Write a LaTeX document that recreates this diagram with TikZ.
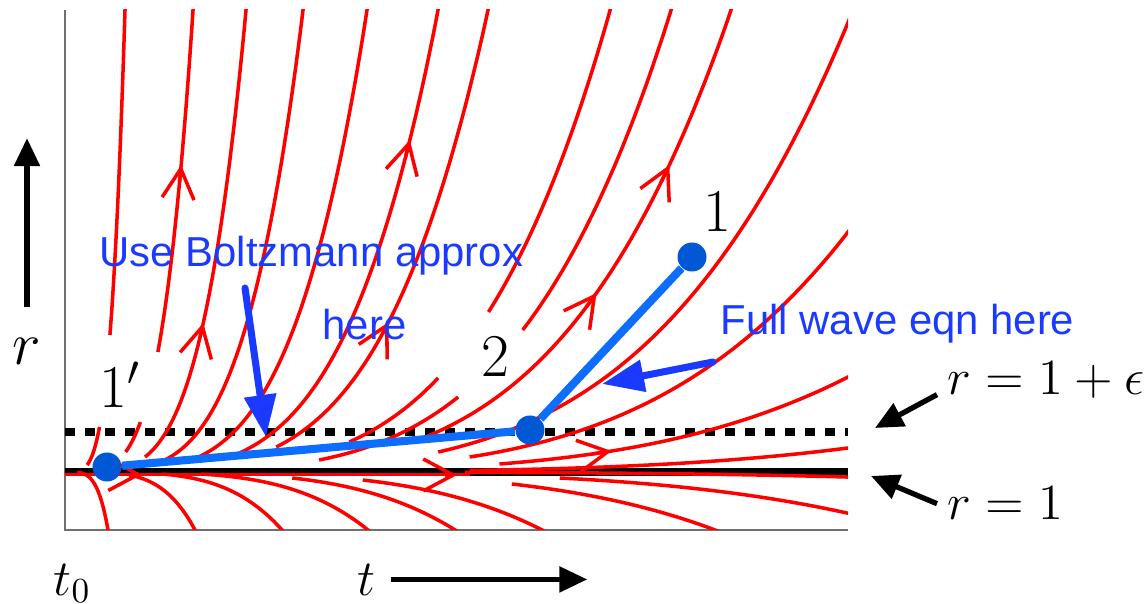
\documentclass[tikz,border=0pt]{standalone}
\usepackage{amsmath,amssymb}
\usepackage{fontspec}
\newfontfamily\notefont{Liberation Sans}
\usetikzlibrary{arrows.meta,positioning,calc}
\definecolor{flowred}{HTML}{FF0000}
\definecolor{routeblue}{HTML}{0D6EFD}
\definecolor{dotblue}{HTML}{0058D4}
\definecolor{noteblue}{HTML}{1A3AFF}
\definecolor{axisgray}{HTML}{707070}

\begin{document}
\begin{tikzpicture}[x=0.01cm,y=-0.01cm,
  declare function={upx(\s,\U)=65+\U*exp((\s-6.1356)/4.2);
    upy(\s)=472-exp(\s);
    dnx(\s,\B)=65+\B*exp((\s-4.0604)/4.2);
    dny(\s)=472+exp(\s);},
  flow/.style={flowred,line width=1pt},
  flowtip/.style={flow,-{Straight Barb[length=3mm,width=3.2mm]}},
  route/.style={routeblue,line width=2.3pt},
  dot/.style={circle,fill=dotblue,inner sep=0pt,minimum size=2.9mm},
  note/.style={noteblue,inner sep=0pt,font=\notefont\fontsize{11.9}{14}\selectfont},
  pointer/.style={noteblue,line width=2pt,line cap=round,-{Triangle[length=4.2mm,width=3.1mm]}},
  ptlabel/.style={inner sep=0pt,font=\fontsize{17}{20}\selectfont},
  axlabel/.style={inner sep=0pt,font=\fontsize{14.5}{17}\selectfont},
  blackarr/.style={line width=1.5pt,-{Triangle[length=2.8mm,width=2.5mm]}}]
\useasboundingbox (0,0) rectangle (1146,604);
\draw[axisgray,line width=0.6pt] (65,10) -- (65,530) -- (848,530);
\draw[line width=2pt] (65,472) -- (848,472);
\draw[line width=2.3pt,dash pattern=on 1mm off 1mm] (65,432) -- (848,432);
\begin{scope}
\clip (65,10) rectangle (848,530);
\draw[flow] plot[domain=ln(137):ln(470),samples=50,smooth,variable=\s] ({upx(\s,60)},{upy(\s)});
\draw[flow] plot[domain=ln(7):ln(45),samples=30,smooth,variable=\s] ({upx(\s,60)},{upy(\s)});
\draw[flow] plot[domain=ln(120):ln(470),samples=50,smooth,variable=\s] ({upx(\s,128)},{upy(\s)});
\draw[flow] plot[domain=ln(20):ln(50),samples=30,smooth,variable=\s] ({upx(\s,128)},{upy(\s)});
\draw[flow] plot[domain=ln(15):ln(470),samples=60,smooth,variable=\s] ({upx(\s,181)},{upy(\s)});
\draw[flow] plot[domain=ln(12):ln(470),samples=60,smooth,variable=\s] ({upx(\s,238)},{upy(\s)});
\draw[flow] plot[domain=ln(10):ln(470),samples=60,smooth,variable=\s] ({upx(\s,302)},{upy(\s)});
\draw[flow] plot[domain=ln(15):ln(470),samples=60,smooth,variable=\s] ({upx(\s,373)},{upy(\s)});
\draw[flow] plot[domain=ln(25):ln(470),samples=60,smooth,variable=\s] ({upx(\s,423)},{upy(\s)});
\draw[flow] plot[domain=ln(160):ln(470),samples=50,smooth,variable=\s] ({upx(\s,545)},{upy(\s)});
\draw[flow] plot[domain=ln(30):ln(94),samples=30,smooth,variable=\s] ({upx(\s,545)},{upy(\s)});
\draw[flow] plot[domain=ln(142):ln(470),samples=50,smooth,variable=\s] ({upx(\s,606)},{upy(\s)});
\draw[flow] plot[domain=ln(12):ln(75),samples=30,smooth,variable=\s] ({upx(\s,606)},{upy(\s)});
\draw[flow] plot[domain=ln(30):ln(470),samples=60,smooth,variable=\s] ({upx(\s,666)},{upy(\s)});
\draw[flow] plot[domain=ln(20):ln(470),samples=60,smooth,variable=\s] ({upx(\s,788)},{upy(\s)});
\draw[flow] plot[domain=ln(15):ln(470),samples=60,smooth,variable=\s] ({upx(\s,915)},{upy(\s)});
\draw[flow] plot[domain=ln(8):ln(470),samples=60,smooth,variable=\s] ({upx(\s,1141)},{upy(\s)});
\draw[flow] plot[domain=ln(1.5):ln(470),samples=60,smooth,variable=\s] ({upx(\s,1583)},{upy(\s)});
\draw[flow] plot[domain=ln(0.3):ln(60),samples=50,smooth,variable=\s] ({dnx(\s,43)},{dny(\s)});
\draw[flow] plot[domain=ln(3):ln(60),samples=50,smooth,variable=\s] ({dnx(\s,130)},{dny(\s)});
\draw[flow] plot[domain=ln(2):ln(60),samples=50,smooth,variable=\s] ({dnx(\s,217)},{dny(\s)});
\draw[flow] plot[domain=ln(2):ln(60),samples=50,smooth,variable=\s] ({dnx(\s,303)},{dny(\s)});
\draw[flow] plot[domain=ln(6):ln(60),samples=50,smooth,variable=\s] ({dnx(\s,390)},{dny(\s)});
\draw[flow] plot[domain=ln(8):ln(60),samples=50,smooth,variable=\s] ({dnx(\s,477)},{dny(\s)});
\draw[flow] plot[domain=ln(12):ln(60),samples=50,smooth,variable=\s] ({dnx(\s,650)},{dny(\s)});
\draw[flow] plot[domain=ln(6):ln(60),samples=50,smooth,variable=\s] ({dnx(\s,849)},{dny(\s)});
\draw[flow] plot[domain=ln(0.3):ln(8),samples=40,smooth,variable=\s] ({dnx(\s,1400)},{dny(\s)});
\draw[flow] (65,474.5) -- (470,474.5);
\draw[flowtip] plot[domain=ln(290):ln(307),samples=2,variable=\s] ({upx(\s,128)},{upy(\s)});
\draw[flowtip] plot[domain=ln(135):ln(149),samples=2,variable=\s] ({upx(\s,181)},{upy(\s)});
\draw[flowtip] plot[domain=ln(315):ln(332),samples=2,variable=\s] ({upx(\s,373)},{upy(\s)});
\draw[flowtip] plot[domain=ln(138):ln(150),samples=2,variable=\s] ({upx(\s,423)},{upy(\s)});
\draw[flowtip] plot[domain=ln(290):ln(307),samples=2,variable=\s] ({upx(\s,666)},{upy(\s)});
\draw[flowtip] plot[domain=ln(165):ln(179),samples=2,variable=\s] ({upx(\s,666)},{upy(\s)});
\draw[flowtip] plot[domain=ln(18):ln(21),samples=2,variable=\s] ({upx(\s,1141)},{upy(\s)});
\draw[flowtip] (130,474.5) -- (142,474.5);
\draw[flowtip] (445,475) -- (457,475);
\end{scope}
\node[dot] (p1p) at (107,467) {};
\node[dot] (p2) at (530,430) {};
\node[dot] (p1) at (692,257) {};
\draw[route] (p1p) -- (p2);
\draw[route] (p2) -- (p1);
\node[ptlabel] (lab1p) at (120,385) {$1'$};
\node[ptlabel] (lab2) at (495,357) {$2$};
\node[ptlabel] (lab1) at (717,212) {$1$};
\node[note,anchor=base west] (boltz) at (99,267) {Use Boltzmann approx};
\node[note,anchor=base west] (here) at (322,340) {here};
\node[note,anchor=base west] (fullwave) at (720,335) {Full wave eqn here};
\coordinate (boltztail) at (245,288);
\coordinate (boltzhead) at (266,437);
\draw[pointer] (boltztail) -- (boltzhead);
\coordinate (wavetail) at (713,362);
\coordinate (wavehead) at (602,384);
\draw[pointer] (wavetail) -- (wavehead);
\node[axlabel,font=\fontsize{16}{19}\selectfont,anchor=base] (rlab) at (27,365) {$r$};
\draw[blackarr] ([yshift=3.1mm]rlab.north) -- ++(0,-169);
\node[axlabel,anchor=base west] (t0lab) at (53,595) {$t_0$};
\node[axlabel,anchor=base west] (tlab) at (357,595) {$t$};
\draw[blackarr] ([xshift=1.5mm]tlab.east) -- ++(196,0);
\node[axlabel,anchor=base west] (eps) at (947,395) {$r=1+\epsilon$};
\node[axlabel,anchor=base west] (unit) at (947,520) {$r=1$};
\coordinate (dashtip) at (875,428);
\coordinate (linetip) at (871,476);
\draw[blackarr] ($(eps.west)+(-10,14)$) -- (dashtip);
\draw[blackarr] ($(unit.west)+(-10,0)$) -- (linetip);
\end{tikzpicture}
\end{document}
